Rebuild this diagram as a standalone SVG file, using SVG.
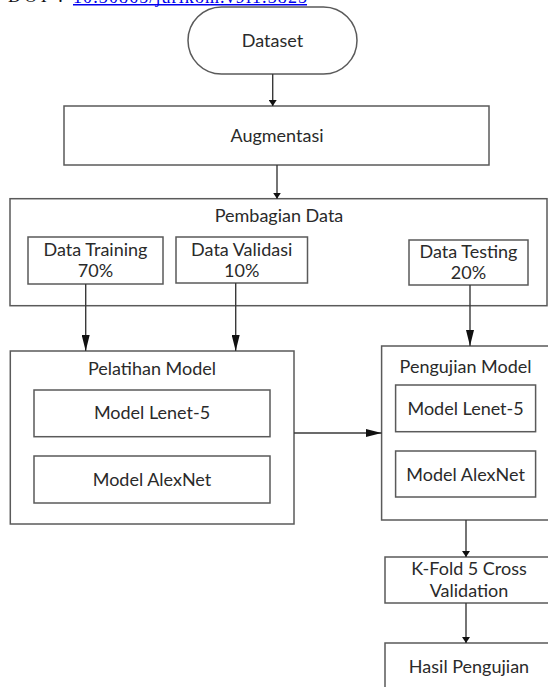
<svg xmlns="http://www.w3.org/2000/svg" width="548" height="687" viewBox="0 0 548 687">
  <style>
    .box { fill: #ffffff; stroke: #5a5a5a; stroke-width: 1.5; }
    .lbl { font-family: Lato, "Liberation Sans", sans-serif; font-size: 18px; fill: #2a2a2a; text-anchor: middle; }
    .wire { fill: none; stroke: #3a3a3a; stroke-width: 1.4; }
    .doi { font-family: "Liberation Serif", serif; font-size: 18px; }
  </style>
  <defs>
    <marker id="headLarge" markerUnits="userSpaceOnUse" markerWidth="16" markerHeight="8" refX="16" refY="4" orient="auto">
      <path d="M0,0 L16,4 L0,8 Z" fill="#111111"/>
    </marker>
    <marker id="headSmall" markerUnits="userSpaceOnUse" markerWidth="6" markerHeight="8" refX="6" refY="4" orient="auto">
      <path d="M0,0 L6,4 L0,8 Z" fill="#111111"/>
    </marker>
  </defs>

  <rect width="548" height="687" fill="#ffffff"/>

  <!-- page header line, cut at the top edge -->
  <g id="header">
    <text class="doi" x="8" y="1.5" textLength="55" fill="#111111">DOI :</text>
    <text class="doi" x="73" y="2.5" textLength="234" fill="#0000ee">10.30865/jurikom.v9i1.3825</text>
    <line x1="73" y1="4.8" x2="307" y2="4.8" stroke="#0000ee" stroke-width="1.4"/>
  </g>

  <g id="dataset">
    <rect class="box" x="188" y="7" width="169" height="67" rx="33.5" ry="33.5"/>
    <text class="lbl" x="272.5" y="47">Dataset</text>
  </g>

  <g id="augmentasi">
    <rect class="box" x="64" y="106" width="425" height="59"/>
    <text class="lbl" x="277" y="142">Augmentasi</text>
  </g>

  <g id="pembagian-data">
    <rect class="box" x="10" y="198.7" width="537" height="107"/>
    <text class="lbl" x="279" y="222">Pembagian Data</text>
  </g>

  <g id="data-training">
    <rect class="box" x="28" y="237" width="135" height="47"/>
    <text class="lbl" x="95.5" y="256">Data Training</text>
    <text class="lbl" x="95.5" y="277">70%</text>
  </g>

  <g id="data-validasi">
    <rect class="box" x="176" y="237" width="131.5" height="46"/>
    <text class="lbl" x="241.7" y="256">Data Validasi</text>
    <text class="lbl" x="241.7" y="277">10%</text>
  </g>

  <g id="data-testing">
    <rect class="box" x="409" y="240" width="119" height="45"/>
    <text class="lbl" x="468.5" y="258">Data Testing</text>
    <text class="lbl" x="468.5" y="279">20%</text>
  </g>

  <g id="pelatihan-model">
    <rect class="box" x="10.3" y="351" width="283.7" height="173"/>
    <text class="lbl" x="152" y="375">Pelatihan Model</text>
  </g>

  <g id="pelatihan-lenet">
    <rect class="box" x="34" y="390" width="236" height="46.7"/>
    <text class="lbl" x="152" y="419">Model Lenet-5</text>
  </g>

  <g id="pelatihan-alexnet">
    <rect class="box" x="34" y="456" width="236" height="47"/>
    <text class="lbl" x="152" y="485.5">Model AlexNet</text>
  </g>

  <g id="pengujian-model">
    <rect class="box" x="381.6" y="346" width="168" height="174"/>
    <text class="lbl" x="465.6" y="372.5">Pengujian Model</text>
  </g>

  <g id="pengujian-lenet">
    <rect class="box" x="395.6" y="385" width="140" height="46.7"/>
    <text class="lbl" x="465.6" y="414.5">Model Lenet-5</text>
  </g>

  <g id="pengujian-alexnet">
    <rect class="box" x="395.6" y="451" width="140" height="46"/>
    <text class="lbl" x="465.6" y="480.5">Model AlexNet</text>
  </g>

  <g id="k-fold">
    <rect class="box" x="385" y="557" width="168" height="46"/>
    <text class="lbl" x="469" y="575">K-Fold 5 Cross</text>
    <text class="lbl" x="469" y="596.5">Validation</text>
  </g>

  <g id="hasil-pengujian">
    <rect class="box" x="385" y="643" width="168" height="50"/>
    <text class="lbl" x="469" y="672.5">Hasil Pengujian</text>
  </g>

  <g id="connectors">
    <line class="wire" x1="272.7" y1="74" x2="272.7" y2="106" marker-end="url(#headSmall)"/>
    <line class="wire" x1="277" y1="165" x2="277" y2="198.7" marker-end="url(#headSmall)"/>
    <line class="wire" x1="85.7" y1="284" x2="85.7" y2="351" marker-end="url(#headLarge)"/>
    <line class="wire" x1="235.7" y1="283" x2="235.7" y2="351" marker-end="url(#headLarge)"/>
    <line class="wire" x1="470" y1="285" x2="470" y2="346" marker-end="url(#headLarge)"/>
    <line class="wire" x1="294" y1="433" x2="381.6" y2="433" marker-end="url(#headLarge)"/>
    <line class="wire" x1="466" y1="520" x2="466" y2="557" marker-end="url(#headSmall)"/>
    <line class="wire" x1="466" y1="603" x2="466" y2="643" marker-end="url(#headSmall)"/>
  </g>
</svg>
